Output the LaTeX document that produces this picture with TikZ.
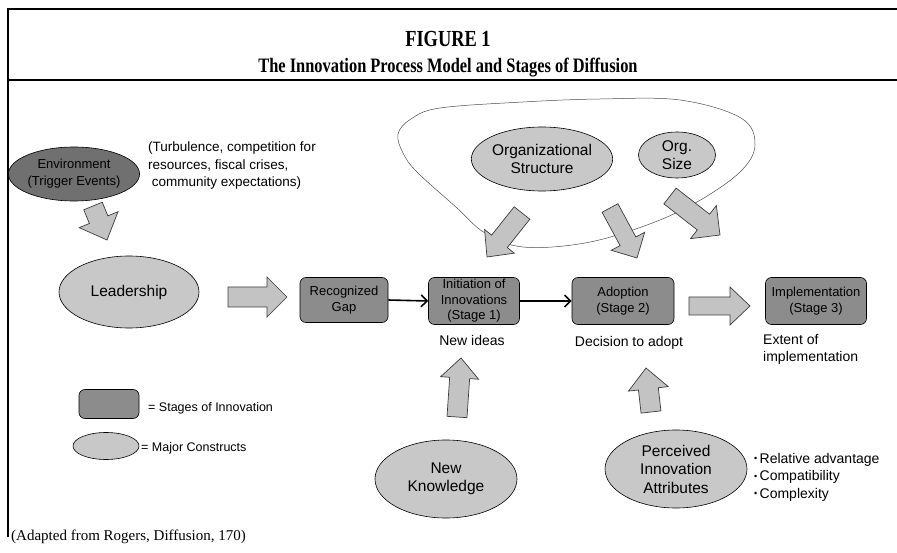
\documentclass[tikz,border=0pt]{standalone}
\usepackage{fontspec}
\setmainfont{Liberation Sans}
\newfontfamily\refserif{Liberation Serif}
\newfontfamily\titleserif[FakeStretch=0.8]{Liberation Serif}
\usetikzlibrary{shapes.geometric, arrows.meta, calc}
\definecolor{constructgray}{RGB}{200,200,200}
\definecolor{stagegray}{RGB}{140,140,140}
\definecolor{triggergray}{RGB}{112,112,112}
\definecolor{fatfill}{RGB}{195,195,195}
\definecolor{fatline}{RGB}{60,60,60}

\tikzset{
  construct/.style={ellipse, draw, line width=0.6pt, fill=constructgray, align=center, inner sep=0pt, font=\fontsize{15.5}{18.5}\selectfont},
  stagebox/.style={rectangle, rounded corners=6pt, draw, line width=0.6pt, fill=stagegray, align=center, inner sep=0pt, font=\fontsize{13}{15.5}\selectfont},
  bigarrow/.style={draw=fatline, fill=fatfill, line width=0.7pt, line join=miter},
  thinarrow/.style={line width=1.6pt, -{Straight Barb[length=6pt,width=12pt]}},
  note/.style={inner sep=0pt, font=\fontsize{14}{17.5}\selectfont},
}

% small raised bullet for the attribute list
\newcommand{\attrbullet}{\raisebox{0.12em}{\fontsize{9}{9}\selectfont\textbullet}\,}

% fat arrow: from, to, shaft half width, head half width, head length
\newcommand{\fatarrow}[5]{%
  \coordinate (faH) at ($(#2)!#5!(#1)$);
  \draw[bigarrow] ($(#1)!#3!90:(#2)$) -- ($(faH)!#3!-90:(#1)$) -- ($(faH)!#4!-90:(#1)$)
    -- (#2) -- ($(faH)!#4!90:(#1)$) -- ($(faH)!#3!90:(#1)$) -- ($(#1)!#3!-90:(#2)$) -- cycle;
}

\begin{document}
\begin{tikzpicture}[x=1pt, y=-1pt]
    \useasboundingbox (0,0) rectangle (897,553);

    % Frame and title
    \draw[line width=1.3pt] (897,9) -- (8,9) -- (8,537);
    \draw[line width=1.1pt] (8,80) -- (897,80);
    \node[anchor=base, font=\titleserif\bfseries\fontsize{23}{26}\selectfont] (fig) at (448,47) {FIGURE 1};
    \node[anchor=base, font=\titleserif\bfseries\fontsize{20.5}{24}\selectfont] (title) at (448,73) {The Innovation Process Model and Stages of Diffusion};

    % Organization group outline
    \draw[line width=0.5pt, black!70] plot[smooth cycle, tension=0.6] coordinates {
        (411,119) (398,134) (403,153) (417,172) (457,208) (485,233) (523,247) (585,243)
        (647,225) (697,202) (740,172) (755,145) (741,118) (680,100) (600,99) (523,102) (440,108)};

    % Constructs
    \node[construct, fill=triggergray, minimum width=118pt, minimum height=54pt, font=\fontsize{13}{17}\selectfont] (env) at (74,174) {Environment\\(Trigger Events)};
    \node[construct, minimum width=140pt, minimum height=72pt] (lead) at (129,292) {Leadership};
    \node[construct, minimum width=140pt, minimum height=64pt] (orgstruct) at (542,159) {Organizational\\Structure};
    \node[construct, minimum width=77pt, minimum height=46pt] (orgsize) at (677,155) {Org.\\Size};
    \node[construct, minimum width=142pt, minimum height=78pt] (newknow) at (446,479) {New\\Knowledge};
    \node[construct, minimum width=142pt, minimum height=78pt] (attrib) at (676,469) {Perceived\\Innovation\\Attributes};

    \node[note, anchor=north west, align=left, font=\fontsize{13.5}{17.5}\selectfont] (turb) at (148,142)
        {(Turbulence, competition for\\resources, fiscal crises,\\\ community expectations)};

    % Stages
    \node[stagebox, minimum width=88pt, minimum height=45pt] (gap) at (344,300) {Recognized\\Gap};
    \node[stagebox, minimum width=91pt, minimum height=47pt] (init) at (474,301) {Initiation of\\Innovations\\(Stage 1)};
    \node[stagebox, minimum width=102pt, minimum height=47pt] (adopt) at (623,301) {Adoption\\(Stage 2)};
    \node[stagebox, minimum width=101pt, minimum height=47pt] (impl) at (816,301) {Implementation\\(Stage 3)};

    \draw[thinarrow] (gap.east) -- (init.west);
    \draw[thinarrow] (init.east) -- (adopt.west);

    \node[note, anchor=base] (ideas) at (472,345) {New ideas};
    \node[note, anchor=base] (decide) at (629,346) {Decision to adopt};
    \node[note, anchor=north west, align=left] (extent) at (763,334) {Extent of\\implementation};
    \node[note, anchor=north west, align=left] (bullets) at (754,453)
        {\attrbullet Relative advantage\\\attrbullet Compatibility\\\attrbullet Complexity};

    % Fat arrows
    \coordinate (envA) at (93,206);   \coordinate (envB) at (107,240);
    \coordinate (leadA) at (228,297); \coordinate (leadB) at (287,297);
    \coordinate (implA) at (689,306); \coordinate (implB) at (750,306);
    \coordinate (osA) at (522,213);   \coordinate (osB) at (487,257);
    \coordinate (oaA) at (610,208);   \coordinate (oaB) at (637,258);
    \coordinate (oiA) at (670,196);   \coordinate (oiB) at (720,235);
    \coordinate (nkA) at (457,417);   \coordinate (nkB) at (461,358);
    \coordinate (atA) at (651,412);   \coordinate (atB) at (646,368);
    \fatarrow{envA}{envB}{10pt}{21pt}{22pt}
    \fatarrow{leadA}{leadB}{10pt}{20pt}{20pt}
    \fatarrow{implA}{implB}{9pt}{19pt}{20pt}
    \fatarrow{osA}{osB}{10pt}{19pt}{20pt}
    \fatarrow{oaA}{oaB}{9pt}{19pt}{19pt}
    \fatarrow{oiA}{oiB}{10pt}{21pt}{21pt}
    \fatarrow{nkA}{nkB}{10pt}{19pt}{20pt}
    \fatarrow{atA}{atB}{10pt}{20pt}{21pt}

    % Legend
    \node[stagebox, minimum width=60pt, minimum height=29pt] (legstage) at (109,404) {};
    \node[anchor=base west, inner sep=0pt, font=\fontsize{12.5}{15}\selectfont] (legstagetxt) at (148,411) {= Stages of Innovation};
    \node[construct, minimum width=66pt, minimum height=27pt] (legcons) at (106,446) {};
    \node[anchor=base west, inner sep=0pt, font=\fontsize{12.5}{15}\selectfont] (legconstxt) at (141,451) {= Major Constructs};

    \node[anchor=base west, inner sep=0pt, font=\refserif\fontsize{15}{18}\selectfont] (source) at (11,540) {(Adapted from Rogers, Diffusion, 170)};
\end{tikzpicture}
\end{document}
